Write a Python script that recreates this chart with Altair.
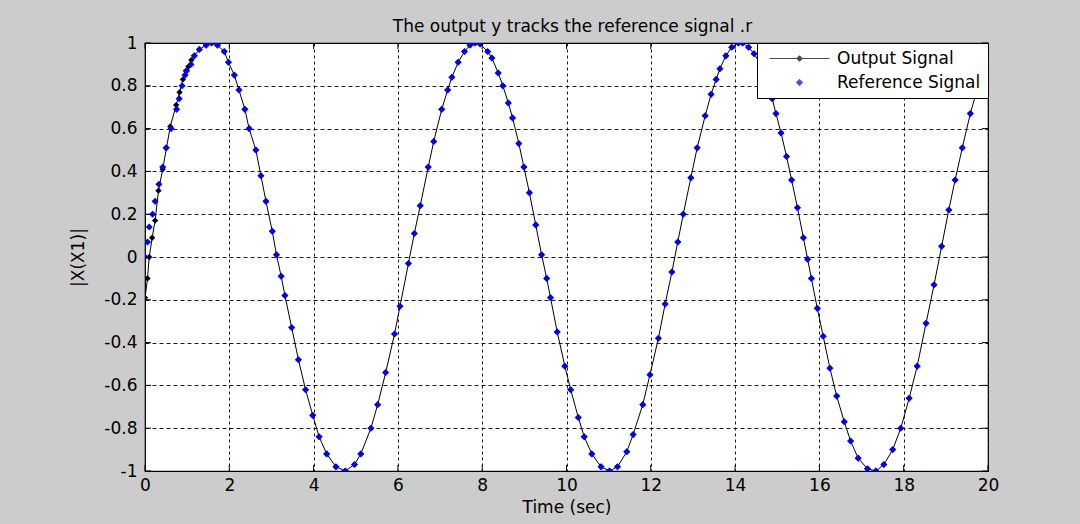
import altair as alt
import pandas as pd

# ---------------- data ----------------
ref_t = [0.00, 0.06, 0.10, 0.18, 0.24, 0.33, 0.42, 0.50, 0.62, 0.75, 0.81, 0.88, 0.95, 0.99,
         1.09, 1.17, 1.29, 1.45, 1.58, 1.72, 1.88, 1.98, 2.12, 2.23, 2.37, 2.47, 2.63, 2.75,
         2.87, 3.02, 3.12, 3.23, 3.32, 3.48, 3.64, 3.81, 3.98, 4.13, 4.31, 4.53, 4.75, 4.97,
         5.12, 5.36, 5.52, 5.71, 5.92, 6.05, 6.25, 6.39, 6.53, 6.72, 6.85, 7.04, 7.18, 7.28,
         7.43, 7.58, 7.71, 7.83, 7.95, 8.13, 8.23, 8.38, 8.49, 8.62, 8.72, 8.87, 8.99, 9.12,
         9.27, 9.41, 9.53, 9.62, 9.78, 9.96, 10.10, 10.28, 10.42, 10.60, 10.82, 11.02, 11.21,
         11.43, 11.58, 11.81, 11.98, 12.18, 12.34, 12.50, 12.64, 12.77, 12.95, 13.10, 13.29,
         13.43, 13.55, 13.64, 13.78, 13.92, 14.08, 14.18, 14.32, 14.45, 14.60, 14.75, 14.88,
         14.97, 15.09, 15.22, 15.34, 15.48, 15.62, 15.72, 15.81, 15.95, 16.09, 16.25, 16.41,
         16.59, 16.74, 16.92, 17.14, 17.34, 17.53, 17.74, 17.93, 18.13, 18.32, 18.53, 18.72,
         18.90, 19.07, 19.22, 19.39, 19.58, 19.71, 19.85, 20.00]
ref_y = [0.00, 0.07, 0.14, 0.20, 0.26, 0.34, 0.42, 0.51, 0.60, 0.69, 0.74, 0.80, 0.85, 0.87,
         0.90, 0.94, 0.97, 0.99, 1.00, 0.99, 0.96, 0.91, 0.85, 0.78, 0.69, 0.60, 0.50, 0.38,
         0.26, 0.12, 0.01, -0.09, -0.18, -0.33, -0.48, -0.62, -0.74, -0.84, -0.92, -0.98, -1.00, -0.97,
         -0.92, -0.80, -0.69, -0.54, -0.36, -0.23, -0.03, 0.11, 0.24, 0.42, 0.54, 0.69, 0.78, 0.84,
         0.91, 0.96, 0.99, 1.00, 0.995, 0.96, 0.93, 0.86, 0.80, 0.72, 0.65, 0.53, 0.42, 0.30,
         0.15, 0.01, -0.10, -0.19, -0.35, -0.51, -0.62, -0.75, -0.84, -0.92, -0.98, -1.00, -0.98,
         -0.91, -0.83, -0.69, -0.55, -0.38, -0.22, -0.07, 0.07, 0.20, 0.37, 0.51, 0.66,
         0.76, 0.83, 0.88, 0.94, 0.98, 1.00, 1.00, 0.98, 0.95, 0.90, 0.82, 0.74,
         0.67, 0.58, 0.47, 0.36, 0.23, 0.09, -0.01, -0.10, -0.24, -0.37, -0.52, -0.65,
         -0.77, -0.86, -0.94, -0.99, -1.00, -0.97, -0.90, -0.80, -0.66, -0.51, -0.31, -0.13,
         0.05, 0.22, 0.36, 0.51, 0.67, 0.76, 0.84, 0.91]

# output signal: own transient at the start, then it lies on the reference samples
out_t_start = [0.00, 0.06, 0.10, 0.17, 0.24, 0.32, 0.42, 0.51, 0.60, 0.74, 0.82, 0.90, 0.97, 1.03, 1.10]
out_y_start = [-0.19, -0.10, 0.00, 0.09, 0.17, 0.31, 0.41, 0.51, 0.61, 0.71, 0.77, 0.83, 0.87, 0.89, 0.92]
join_index = 15  # reference sample from which the output coincides (t = 1.17)

x_ticks = [0, 2, 4, 6, 8, 10, 12, 14, 16, 18, 20]
y_ticks = [-1, -0.8, -0.6, -0.4, -0.2, 0, 0.2, 0.4, 0.6, 0.8, 1]
series_names = ["Output Signal", "Reference Signal"]
series_colors = ["black", "blue"]
title_text = "The output y tracks the reference signal .r"
x_title = "Time (sec)"
y_title = "|X(X1)|"

# ---------------- tables ----------------
ref_df = pd.DataFrame({"t": ref_t, "y": ref_y})
out_df = pd.DataFrame({"t": out_t_start + ref_t[join_index:],
                       "y": out_y_start + ref_y[join_index:]})
xt_df = pd.DataFrame({"t": x_ticks})
yt_df = pd.DataFrame({"y": y_ticks})
leg_df = pd.DataFrame({"series": series_names, "t": [-50, -50], "y": [0, 0]})

FONT = "DejaVu Sans"
W, H = 843, 428

xscale = alt.Scale(domain=[0, 20], nice=False, zero=False)
yscale = alt.Scale(domain=[-1, 1], nice=False, zero=False)

xaxis = alt.Axis(values=x_ticks, labelExpr="'' + datum.value", grid=True, gridColor="black",
                 gridDash=[3, 3], gridWidth=1, gridOpacity=0.9, ticks=False, domain=False,
                 labelFont=FONT, labelFontSize=17, labelColor="black", labelPadding=6,
                 title=x_title, titleFont=FONT, titleFontSize=17, titleFontWeight="normal",
                 titleColor="black", titlePadding=6, labelFlush=False)
yaxis = alt.Axis(values=y_ticks, labelExpr="'' + datum.value", grid=True, gridColor="black",
                 gridDash=[4, 3], gridWidth=1, gridOpacity=0.9, ticks=False, domain=False,
                 labelFont=FONT, labelFontSize=17, labelColor="black", labelPadding=8,
                 title=y_title, titleFont=FONT, titleFontSize=17, titleFontWeight="normal",
                 titleColor="black", titlePadding=16, labelFlush=False)

base_x = alt.X("t:Q", scale=xscale, axis=xaxis)
base_y = alt.Y("y:Q", scale=yscale, axis=yaxis)

line = alt.Chart(out_df).mark_line(color="black", strokeWidth=1, clip=True).encode(
    x=base_x, y=base_y, order="t:Q")
out_pts = alt.Chart(out_df).mark_point(shape="diamond", filled=True, size=40, color="black",
                                       opacity=1, clip=True).encode(x="t:Q", y="y:Q")
ref_pts = alt.Chart(ref_df).mark_point(shape="diamond", filled=True, size=50, color="blue",
                                       opacity=1, clip=True).encode(x="t:Q", y="y:Q")

# inward tick marks on all four sides
tk = 6
ticks_bottom = alt.Chart(xt_df).mark_rule(color="black", strokeWidth=1).encode(
    x="t:Q", y=alt.value(H), y2=alt.value(H - tk))
ticks_top = alt.Chart(xt_df).mark_rule(color="black", strokeWidth=1).encode(
    x="t:Q", y=alt.value(0), y2=alt.value(tk))
ticks_left = alt.Chart(yt_df).mark_rule(color="black", strokeWidth=1).encode(
    y="y:Q", x=alt.value(0), x2=alt.value(tk))
ticks_right = alt.Chart(yt_df).mark_rule(color="black", strokeWidth=1).encode(
    y="y:Q", x=alt.value(W), x2=alt.value(W - tk))

# legend symbols: size 256 -> unit = 8 px; a 60 px line with a dot, and a dot
path_out = "M-3.75,0L3.75,0M-0.35,0L0,-0.35L0.35,0L0,0.35Z"
path_ref = "M-0.4,0L0,-0.4L0.4,0L0,0.4Z"
legend = alt.Legend(title=None, orient="top-right", offset=0, padding=7,
                    fillColor="white", strokeColor="black",
                    labelFont=FONT, labelFontSize=17, labelColor="black", labelOffset=29,
                    labelExpr="datum.label + '\u00a0\u00a0'",
                    symbolSize=256, symbolOffset=27, symbolStrokeWidth=1, rowPadding=6)
leg_layer = alt.Chart(leg_df).mark_point(filled=True, clip=True).encode(
    x="t:Q", y="y:Q",
    color=alt.Color("series:N", scale=alt.Scale(domain=series_names, range=series_colors), legend=legend),
    stroke=alt.Stroke("series:N", scale=alt.Scale(domain=series_names, range=series_colors), legend=legend),
    shape=alt.Shape("series:N", scale=alt.Scale(domain=series_names, range=[path_out, path_ref]), legend=legend),
)

chart = alt.layer(line, out_pts, ref_pts, ticks_bottom, ticks_top, ticks_left, ticks_right, leg_layer).properties(
    width=W, height=H,
    title=alt.TitleParams(title_text, font=FONT, fontSize=17, fontWeight="normal", color="black",
                          anchor="middle", offset=1, dx=6, dy=3),
    background="#cccccc",
    autosize=alt.AutoSizeParams(type="none"),
    padding={"left": 145, "top": 43, "right": 92, "bottom": 53},
).configure_view(stroke="black", strokeWidth=1.2, fill="white").configure_legend(strokeWidth=1)

chart.save("out.html", embed_options={"renderer": "svg", "actions": False})
